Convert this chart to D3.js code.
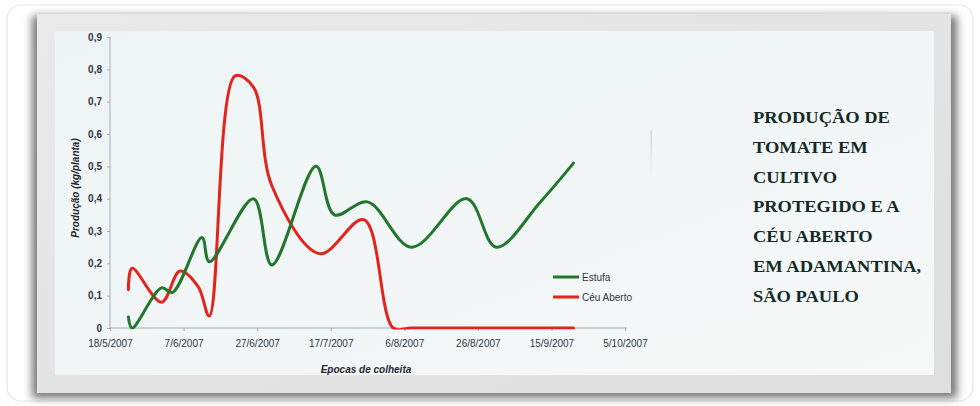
<!DOCTYPE html>
<html>
<head>
<meta charset="utf-8">
<script src="https://cdn.jsdelivr.net/npm/d3@7/dist/d3.min.js"></script>
<style>
  html, body { margin: 0; padding: 0; background: #ffffff; }
  svg { display: block; }
  .caption { font-family: "Liberation Serif", "Times New Roman", serif; }
</style>
</head>
<body>
<svg id="chart" width="980" height="406"></svg>
<script>
// Harvest dates (Épocas de colheita) and yield per plant, kg
const estufaDates  = ["2007-05-23","2007-05-24","2007-06-01","2007-06-04","2007-06-12","2007-06-14",
                      "2007-06-26","2007-07-01","2007-07-13","2007-07-18","2007-07-27","2007-08-08",
                      "2007-08-23","2007-08-31","2007-09-12","2007-09-21"];
const estufaValues = [0.034, 0.0, 0.124, 0.11, 0.28, 0.205, 0.40, 0.195, 0.50, 0.35, 0.39, 0.25,
                      0.40, 0.25, 0.39, 0.51];

const ceuDates  = ["2007-05-23","2007-05-24","2007-06-01","2007-06-06","2007-06-11","2007-06-14",
                   "2007-06-21","2007-06-26","2007-07-01","2007-07-14","2007-07-26","2007-08-03",
                   "2007-08-08","2007-08-23","2007-08-31","2007-09-12","2007-09-21"];
const ceuValues = [0.118, 0.185, 0.08, 0.176, 0.127, 0.037, 0.78, 0.745, 0.44, 0.23, 0.335, 0.0,
                   0.0, 0.0, 0.0, 0.0, 0.0];

const seriesNames = ["Estufa", "Céu Aberto"];
const xTickDates  = ["2007-05-18","2007-06-07","2007-06-27","2007-07-17","2007-08-06",
                     "2007-08-26","2007-09-15","2007-10-05"];
const yTickValues = [0, 0.1, 0.2, 0.3, 0.4, 0.5, 0.6, 0.7, 0.8, 0.9];
const yTickLabels = ["0", "0,1", "0,2", "0,3", "0,4", "0,5", "0,6", "0,7", "0,8", "0,9"];
const titleLines  = ["PRODUÇÃO DE", "TOMATE EM", "CULTIVO", "PROTEGIDO E A",
                     "CÉU ABERTO", "EM ADAMANTINA,", "SÃO PAULO"];

const parse = d3.timeParse("%Y-%m-%d");
const svg = d3.select("#chart");
const defs = svg.append("defs");

// ---- card, photo frame and paper panel ----
const cardShadow = defs.append("filter").attr("id", "cardShadow")
  .attr("x", "-5%").attr("y", "-5%").attr("width", "110%").attr("height", "110%");
cardShadow.append("feGaussianBlur").attr("stdDeviation", 4);

const frameGrad = defs.append("linearGradient").attr("id", "frameGrad")
  .attr("x1", 0).attr("y1", 0).attr("x2", 1).attr("y2", 1);
frameGrad.append("stop").attr("offset", "0%").attr("stop-color", "#eaeaea");
frameGrad.append("stop").attr("offset", "100%").attr("stop-color", "#dedede");

const paperGrad = defs.append("linearGradient").attr("id", "paperGrad")
  .attr("x1", 0).attr("y1", 0).attr("x2", 1).attr("y2", 1);
paperGrad.append("stop").attr("offset", "0%").attr("stop-color", "#eef4f5");
paperGrad.append("stop").attr("offset", "60%").attr("stop-color", "#f2f6f6");
paperGrad.append("stop").attr("offset", "100%").attr("stop-color", "#f7f9f8");

svg.append("rect")
  .attr("x", 7).attr("y", 5).attr("width", 966).attr("height", 396).attr("rx", 14)
  .attr("fill", "#ffffff").attr("stroke", "#e6e6e6").attr("stroke-width", 1.2);

svg.append("rect")
  .attr("x", 32).attr("y", 16).attr("width", 925).attr("height", 382)
  .attr("fill", "#555555").attr("opacity", 0.8).attr("filter", "url(#cardShadow)");

svg.append("rect")
  .attr("x", 37).attr("y", 14).attr("width", 914).attr("height", 379)
  .attr("fill", "url(#frameGrad)");

svg.append("rect")
  .attr("x", 55).attr("y", 31).attr("width", 879).attr("height", 344)
  .attr("fill", "url(#paperGrad)");

// ---- scales ----
const x = d3.scaleTime()
  .domain([parse("2007-05-18"), parse("2007-10-05")])
  .range([110, 625]);
const y = d3.scaleLinear().domain([0, 0.9]).range([328, 37]);

const axisColor = "#9fb0b9";
const textColor = "#2c3846";

// ---- axes ----
const yAxis = svg.append("g")
  .attr("transform", `translate(${x.range()[0]},0)`)
  .call(d3.axisLeft(y).tickValues(yTickValues)
    .tickFormat((d, i) => yTickLabels[i]).tickSize(3).tickPadding(5));
yAxis.select(".domain").attr("stroke", axisColor).attr("d", `M0,${y(0)}V${y(0.9)}`);
yAxis.selectAll(".tick line").attr("stroke", axisColor);
yAxis.selectAll(".tick text")
  .attr("fill", textColor).attr("font-family", "Liberation Sans, Arial, sans-serif")
  .attr("font-size", 10).attr("font-weight", "bold");

const xAxis = svg.append("g")
  .attr("transform", `translate(0,${y(0)})`)
  .call(d3.axisBottom(x).tickValues(xTickDates.map(parse))
    .tickFormat(d3.timeFormat("%-d/%-m/%Y")).tickSize(3).tickPadding(9));
xAxis.select(".domain").attr("stroke", axisColor).attr("d", `M${x.range()[0]},0H${x.range()[1] + 2}`);
xAxis.selectAll(".tick line").attr("stroke", axisColor);
xAxis.selectAll(".tick text")
  .attr("fill", textColor).attr("font-family", "Liberation Sans, Arial, sans-serif")
  .attr("font-size", 10);

// axis titles
svg.append("text")
  .attr("transform", "translate(79,188) rotate(-90)")
  .attr("text-anchor", "middle")
  .attr("font-family", "Liberation Sans, Arial, sans-serif")
  .attr("font-size", 10).attr("font-weight", "bold").attr("font-style", "italic")
  .attr("fill", "#1f2630")
  .text("Produção (kg/planta)");

svg.append("text")
  .attr("x", 366).attr("y", 373)
  .attr("text-anchor", "middle")
  .attr("font-family", "Liberation Sans, Arial, sans-serif")
  .attr("font-size", 10).attr("font-weight", "bold").attr("font-style", "italic")
  .attr("fill", "#1f2630")
  .text("Epocas de colheita");

// ---- series ----
defs.append("clipPath").attr("id", "plotClip")
  .append("rect").attr("x", x.range()[0]).attr("y", 20)
  .attr("width", x.range()[1] - x.range()[0] + 10).attr("height", y(0) + 1.6 - 20);

const line = d3.line()
  .x(d => x(d.date))
  .y(d => y(d.value))
  .curve(d3.curveCatmullRom.alpha(0.5));

const series = [
  { name: seriesNames[0], color: "#22772c",
    points: estufaDates.map((d, i) => ({ date: parse(d), value: estufaValues[i] })) },
  { name: seriesNames[1], color: "#e4231d",
    points: ceuDates.map((d, i) => ({ date: parse(d), value: ceuValues[i] })) }
];

const plot = svg.append("g").attr("clip-path", "url(#plotClip)");
plot.selectAll("path.series")
  .data(series.slice().reverse())
  .join("path")
  .attr("class", "series")
  .attr("fill", "none")
  .attr("stroke", d => d.color)
  .attr("stroke-width", 3)
  .attr("stroke-linejoin", "round")
  .attr("stroke-linecap", "round")
  .attr("d", d => line(d.points));

// ---- legend ----
const legend = svg.append("g");
series.forEach((s, i) => {
  const ly = 277 + i * 20;
  legend.append("line")
    .attr("x1", 553).attr("x2", 579).attr("y1", ly).attr("y2", ly)
    .attr("stroke", s.color).attr("stroke-width", 3);
  legend.append("text")
    .attr("x", 582).attr("y", ly + 3.5)
    .attr("font-family", "Liberation Sans, Arial, sans-serif")
    .attr("font-size", 10).attr("fill", textColor)
    .text(s.name);
});

// faint rule between chart and caption
const ruleGrad = defs.append("linearGradient").attr("id", "ruleGrad")
  .attr("x1", 0).attr("y1", 0).attr("x2", 0).attr("y2", 1);
ruleGrad.append("stop").attr("offset", "0%").attr("stop-color", "#b4c4c7").attr("stop-opacity", 0.8);
ruleGrad.append("stop").attr("offset", "100%").attr("stop-color", "#b4c4c7").attr("stop-opacity", 0);
svg.append("rect")
  .attr("x", 650.5).attr("y", 131).attr("width", 1.2).attr("height", 50)
  .attr("fill", "url(#ruleGrad)");

// ---- caption (wide bold serif, widened horizontally) ----
const caption = svg.append("g")
  .attr("transform", "translate(753,0) scale(1.12,1)")
  .append("text")
  .attr("class", "caption")
  .attr("font-weight", "bold").attr("font-size", 16.5)
  .attr("fill", "#132a27");
titleLines.forEach((t, i) => {
  caption.append("tspan").attr("x", 0).attr("y", 123 + i * 29.8).text(t);
});
</script>
</body>
</html>
